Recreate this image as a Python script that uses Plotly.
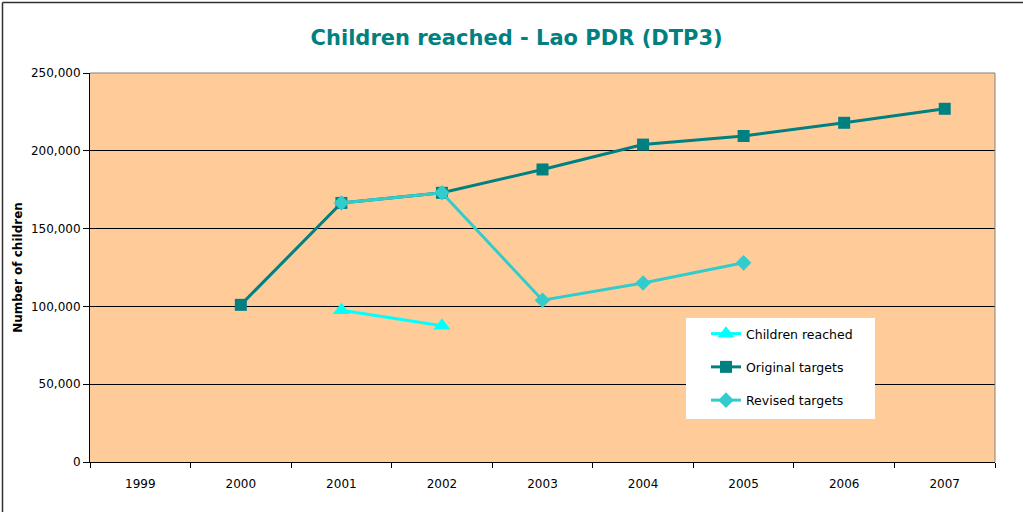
import plotly.graph_objects as go

years = ["1999", "2000", "2001", "2002", "2003", "2004", "2005", "2006", "2007"]
children_reached = [None, None, 97500, 87600, None, None, None, None, None]
original_targets = [None, 101000, 166500, 173000, 188000, 204000, 209500, 218000, 227000]
revised_targets = [None, None, 166500, 173000, 104000, 115000, 128000, None, None]

title_text = "Children reached - Lao PDR (DTP3)"
y_title = "Number of children"
y_ticks = [0, 50000, 100000, 150000, 200000, 250000]

FONT = "DejaVu Sans"

fig = go.Figure()
fig.add_trace(go.Scatter(
    x=years, y=children_reached, name="Children reached", mode="lines+markers",
    line=dict(color="#00FFFF", width=3),
    marker=dict(symbol="triangle-up", size=15, color="#00FFFF"),
    legendgroup="a",
))
fig.add_trace(go.Scatter(
    x=years, y=original_targets, name="Original targets", mode="lines+markers",
    line=dict(color="#008080", width=3),
    marker=dict(symbol="square", size=12, color="#008080"),
    legendgroup="b",
))
fig.add_trace(go.Scatter(
    x=years, y=revised_targets, name="Revised targets", mode="lines+markers",
    line=dict(color="#33CCCC", width=3),
    marker=dict(symbol="diamond", size=12, color="#33CCCC"),
    legendgroup="c",
))

L, R, T, B = 90, 28, 73, 50
W, H = 1023, 512
pw, ph = W - L - R, H - T - B

def px_x(p):
    return (p - L) / pw

def px_y(p):
    return (H - B - p) / ph

shapes = [
    # white legend box
    dict(type="rect", xref="paper", yref="paper", x0=px_x(686), x1=px_x(875),
         y0=px_y(419), y1=px_y(318), fillcolor="white", line=dict(width=0), layer="above"),
    # plot area top/right border
    dict(type="line", xref="paper", yref="paper", x0=0, x1=1, y0=1, y1=1,
         line=dict(color="#808080", width=1)),
    dict(type="line", xref="paper", yref="paper", x0=1, x1=1, y0=0, y1=1,
         line=dict(color="#808080", width=1)),
    # outer chart border (left and top)
    dict(type="line", xref="paper", yref="paper", x0=px_x(2.5), x1=px_x(2.5), y0=px_y(530), y1=px_y(2.5),
         line=dict(color="#303030", width=1.5)),
    dict(type="line", xref="paper", yref="paper", x0=px_x(2.5), x1=px_x(1040), y0=px_y(2.5), y1=px_y(2.5),
         line=dict(color="#303030", width=1.5)),
]

fig.update_layout(
    width=W, height=H,
    margin=dict(l=L, r=R, t=T, b=B, autoexpand=False),
    paper_bgcolor="white",
    plot_bgcolor="#FFCC99",
    font=dict(family=FONT, size=12, color="black"),
    title=dict(text="<b>" + title_text + "</b>", x=0.505, xanchor="center",
               y=1 - 38 / H, yanchor="middle",
               font=dict(family=FONT, size=21, color="#008080")),
    showlegend=True,
    legend=dict(x=px_x(706), y=px_y(319), xanchor="left", yanchor="top",
                bgcolor="rgba(0,0,0,0)", borderwidth=0, tracegroupgap=14,
                font=dict(family=FONT, size=12.5, color="black"), itemwidth=30),
    shapes=shapes,
)

fig.update_xaxes(
    type="category", categoryorder="array", categoryarray=years,
    range=[-0.5, len(years) - 0.5],
    showline=True, linecolor="black", linewidth=1,
    ticks="outside", tickson="boundaries", ticklen=5, tickcolor="black",
    ticklabelstandoff=11,
    showgrid=False, zeroline=False,
    tickfont=dict(family=FONT, size=12), fixedrange=True,
)
fig.update_yaxes(
    range=[0, 250000], tickvals=y_ticks, tickformat=",d",
    showline=True, linecolor="black", linewidth=1,
    ticks="outside", ticklen=6, tickcolor="black",
    showgrid=True, gridcolor="black", gridwidth=1, zeroline=False,
    tickfont=dict(family=FONT, size=12),
    title=dict(text="<b>" + y_title + "</b>", standoff=5, font=dict(family=FONT, size=12)),
    automargin=False,
)

fig.write_html("out.html", config={"displayModeBar": False},
               post_script="document.body.style.margin='0';")
